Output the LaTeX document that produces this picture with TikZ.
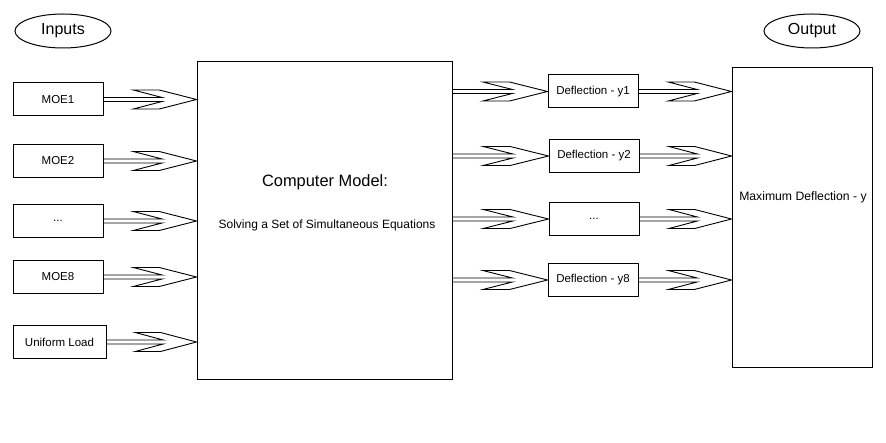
\documentclass[tikz,border=0pt]{standalone}
\usepackage{fontspec}
\setmainfont{Liberation Sans}
\usetikzlibrary{calc, shapes.geometric}

\tikzset{
  box/.style={draw, line width=1pt, inner sep=0pt, minimum width=90pt, minimum height=33pt,
    font=\fontsize{11.5}{13}\selectfont},
  oval/.style={draw, ellipse, line width=1pt, inner sep=0pt, minimum width=96pt, minimum height=34pt,
    font=\fontsize{16}{18}\selectfont},
  fatline/.style={draw, line width=0.9pt, line join=miter, fill=white},
}
% block arrow from the first point to the second one
\newcommand{\fatarrow}[2]{%
  \draw[fatline] let \p1=(#1), \p2=(#2), \n1={\x2-\x1} in
    ({\x1},{\y1-2pt}) -- ({\x1+0.63*\n1},{\y1-2pt}) -- ({\x1+0.32*\n1},{\y1-9.5pt})
    -- ({\x1+0.6*\n1},{\y1-9.5pt}) -- ({\x2},{\y1}) -- ({\x1+0.6*\n1},{\y1+9.5pt})
    -- ({\x1+0.32*\n1},{\y1+9.5pt}) -- ({\x1+0.63*\n1},{\y1+2pt}) -- ({\x1},{\y1+2pt}) -- cycle;}

\begin{document}
\begin{tikzpicture}[x=1pt, y=-1pt]
        \useasboundingbox (0,0) rectangle (886,443);
        % Headings
        \node[oval] (inputs) at (63,31) {Inputs};
        \node[oval] (output) at (812,31) {Output};
        % Input boxes
        \node[box] (moe1) at (58,99.5) {MOE1};
        \node[box] (moe2) at (58,161) {MOE2};
        \node[box] (moedots) at (58,221) {...};
        \node[box] (moe8) at (58,277) {MOE8};
        \node[box, minimum width=93pt] (load) at (59.5,342) {Uniform Load};
        % Model
        \node[draw, line width=1pt, minimum width=255pt, minimum height=318pt] (model) at (324.5,221) {};
        \node[font=\fontsize{16.4}{18}\selectfont] (modeltitle) at (325,182) {Computer Model:};
        \node[font=\fontsize{12}{14}\selectfont] (modeltext) at (327,225) {Solving a Set of Simultaneous Equations};
        % Deflection boxes
        \node[box] (defl1) at (593,91.5) {Deflection - y1};
        \node[box] (defl2) at (594,156) {Deflection - y2};
        \node[box] (defldots) at (594,219) {...};
        \node[box] (defl8) at (593,280) {Deflection - y8};
        % Maximum
        \node[draw, line width=1pt, minimum width=140pt, minimum height=300pt] (maxbox) at (802,218) {};
        \node[font=\fontsize{12.2}{14}\selectfont] (maxtext) at (803,197) {Maximum Deflection - y};
        % Arrows into the model
        \foreach \b in {moe1, moe2, moedots, moe8, load}
          \fatarrow{\b.east}{model.west |- \b.east};
        % Arrows out of the model
        \foreach \b in {defl1, defl2, defldots, defl8}
          \fatarrow{model.east |- \b.west}{\b.west};
        % Arrows into the maximum
        \foreach \b in {defl1, defl2, defldots, defl8}
          \fatarrow{\b.east}{maxbox.west |- \b.east};
      \end{tikzpicture}
\end{document}
